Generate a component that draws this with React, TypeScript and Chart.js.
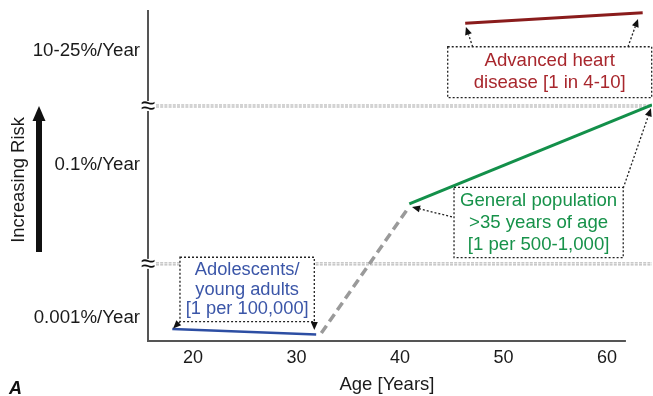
import React, { useEffect, useRef } from "react";
import { Chart, registerables } from "chart.js";

Chart.register(...registerables);

// ---- Data (arbitrary risk units on a broken y axis) ----
const youngAges = [18.0, 31.9];
const youngRisk = [3.6, 2.0];
const transitionAges = [32.4, 40.8];
const transitionRisk = [2.4, 40.2];
const generalAges = [40.9, 64.35];
const generalRisk = [41.4, 71.3];
const heartAges = [46.3, 63.45];
const heartRisk = [96.0, 99.2];

const xTickValues = [20, 30, 40, 50, 60];
const yLabelValues = [87.6, 53.2, 6.9];
const yLabelTexts = ["10-25%/Year", "0.1%/Year", "0.001%/Year"];
const breakValues = [71.0, 23.3];

const xTitle = "Age [Years]";
const yTitle = "Increasing Risk";
const panelLabel = "A";

const youngLabel = ["Adolescents/", "young adults", "[1 per 100,000]"];
const generalLabel = ["General population", ">35 years of age", "[1 per 500-1,000]"];
const heartLabel = ["Advanced heart", "disease [1 in 4-10]"];

const FONT = '"Liberation Sans", Arial, Helvetica, sans-serif';

type Box = { x0: number; x1: number; y0: number; y1: number; lines: string[]; color: string; size: number; spacing: number };
const boxes: Box[] = [
  { x0: 18.74, x1: 31.72, y0: 5.83, y1: 25.3, lines: youngLabel, color: "#3b56a8", size: 18.3, spacing: 19.3 },
  { x0: 45.22, x1: 61.57, y0: 25.2, y1: 46.4, lines: generalLabel, color: "#17924a", size: 18.6, spacing: 22 },
  { x0: 44.61, x1: 64.32, y0: 73.5, y1: 88.9, lines: heartLabel, color: "#a8272d", size: 18.6, spacing: 22 },
];

const arrows = [
  { tail: [18.74, 5.83], head: [18.07, 3.8] },
  { tail: [31.72, 5.83], head: [31.72, 3.3] },
  { tail: [45.02, 37.5], head: [41.16, 40.5] },
  { tail: [61.57, 46.2], head: [64.25, 70.3] },
  { tail: [47.02, 88.9], head: [46.37, 94.9] },
  { tail: [62.03, 88.9], head: [63.0, 97.3] },
];

const AXIS_END = 61.83;

const decorPlugin = {
  id: "decor",
  beforeDatasetsDraw(chart: any) {
    const { ctx, chartArea, scales } = chart;
    const xs = scales.x;
    const ys = scales.y;
    ctx.save();
    // break lines
    for (const b of breakValues) {
      const y = ys.getPixelForValue(b);
      ctx.strokeStyle = "#a8a8a8";
      ctx.lineWidth = 1;
      ctx.setLineDash([3, 1.2]);
      for (const dy of [-1, 1]) {
        ctx.beginPath();
        ctx.moveTo(chartArea.left + 8, y + dy);
        ctx.lineTo(chartArea.right, y + dy);
        ctx.stroke();
      }
    }
    ctx.setLineDash([]);
    // axes
    ctx.strokeStyle = "#555";
    ctx.lineWidth = 2;
    ctx.beginPath();
    ctx.moveTo(chartArea.left, chartArea.top);
    ctx.lineTo(chartArea.left, chartArea.bottom);
    ctx.lineTo(xs.getPixelForValue(AXIS_END), chartArea.bottom);
    ctx.stroke();
    // break symbols
    for (const b of breakValues) {
      const y = ys.getPixelForValue(b);
      ctx.fillStyle = "#fff";
      ctx.fillRect(chartArea.left - 5, y - 5, 10, 10);
      ctx.fillStyle = "#111";
      ctx.font = `26px ${FONT}`;
      ctx.textAlign = "center";
      ctx.textBaseline = "middle";
      ctx.fillText("\u2248", chartArea.left, y + 1);
    }
    // x tick labels
    ctx.fillStyle = "#1a1a1a";
    ctx.font = `18px ${FONT}`;
    ctx.textAlign = "center";
    ctx.textBaseline = "middle";
    for (const t of xTickValues) {
      ctx.fillText(String(t), xs.getPixelForValue(t), chartArea.bottom + 17);
    }
    // x title
    ctx.font = `18.5px ${FONT}`;
    ctx.fillText(xTitle, (chartArea.left + xs.getPixelForValue(AXIS_END)) / 2, chartArea.bottom + 44);
    // y labels
    ctx.textAlign = "right";
    ctx.font = `18.7px ${FONT}`;
    for (let i = 0; i < yLabelValues.length; i++) {
      ctx.fillText(yLabelTexts[i], chartArea.left - 8, ys.getPixelForValue(yLabelValues[i]));
    }
    // panel label
    ctx.font = `italic bold 18px ${FONT}`;
    ctx.textAlign = "left";
    ctx.textBaseline = "alphabetic";
    ctx.fillStyle = "#111";
    ctx.fillText(panelLabel, 9, 394);
    // y title rotated
    ctx.save();
    ctx.translate(19, 180);
    ctx.rotate(-Math.PI / 2);
    ctx.font = `18.4px ${FONT}`;
    ctx.textAlign = "center";
    ctx.textBaseline = "middle";
    ctx.fillStyle = "#1a1a1a";
    ctx.fillText(yTitle, 0, 0);
    ctx.restore();
    // big arrow
    ctx.fillStyle = "#111";
    ctx.fillRect(36, 119, 6, 133);
    ctx.beginPath();
    ctx.moveTo(32.5, 121);
    ctx.lineTo(39, 106);
    ctx.lineTo(45.5, 121);
    ctx.closePath();
    ctx.fill();
    ctx.restore();
  },
  afterDatasetsDraw(chart: any) {
    const { ctx, scales } = chart;
    const xs = scales.x;
    const ys = scales.y;
    ctx.save();
    // boxes
    for (const b of boxes) {
      const l = xs.getPixelForValue(b.x0);
      const r = xs.getPixelForValue(b.x1);
      const t = ys.getPixelForValue(b.y1);
      const bt = ys.getPixelForValue(b.y0);
      ctx.fillStyle = "#fff";
      ctx.fillRect(l, t, r - l, bt - t);
      ctx.strokeStyle = "#222";
      ctx.lineWidth = 1.3;
      ctx.setLineDash([2, 2]);
      ctx.strokeRect(l, t, r - l, bt - t);
      ctx.setLineDash([]);
      ctx.fillStyle = b.color;
      ctx.font = `${b.size}px ${FONT}`;
      ctx.textAlign = "center";
      ctx.textBaseline = "middle";
      const cx = (l + r) / 2;
      const cy = (t + bt) / 2;
      const n = b.lines.length;
      b.lines.forEach((line, i) => {
        ctx.fillText(line, cx, cy + (i - (n - 1) / 2) * b.spacing);
      });
    }
    // arrows
    for (const a of arrows) {
      const x0 = xs.getPixelForValue(a.tail[0]);
      const y0 = ys.getPixelForValue(a.tail[1]);
      const x1 = xs.getPixelForValue(a.head[0]);
      const y1 = ys.getPixelForValue(a.head[1]);
      const ang = Math.atan2(y1 - y0, x1 - x0);
      const len = 8;
      const hw = 3.5;
      const bx = x1 - Math.cos(ang) * len;
      const by = y1 - Math.sin(ang) * len;
      ctx.strokeStyle = "#222";
      ctx.lineWidth = 1.3;
      ctx.setLineDash([2, 2]);
      ctx.beginPath();
      ctx.moveTo(x0, y0);
      ctx.lineTo(bx, by);
      ctx.stroke();
      ctx.setLineDash([]);
      ctx.fillStyle = "#111";
      ctx.beginPath();
      ctx.moveTo(x1, y1);
      ctx.lineTo(bx - Math.sin(ang) * hw, by + Math.cos(ang) * hw);
      ctx.lineTo(bx + Math.sin(ang) * hw, by - Math.cos(ang) * hw);
      ctx.closePath();
      ctx.fill();
    }
    ctx.restore();
  },
};

function pts(xs: number[], ys: number[]) {
  return xs.map((x, i) => ({ x, y: ys[i] }));
}

export default function App() {
  const ref = useRef<HTMLCanvasElement | null>(null);
  useEffect(() => {
    document.body.style.margin = "0";
    const canvas = ref.current;
    if (!canvas) return;
    const chart = new Chart(canvas, {
      type: "line",
      data: {
        datasets: [
          { data: pts(youngAges, youngRisk), borderColor: "#2d4ea3", borderWidth: 2.5, pointRadius: 0 },
          { data: pts(transitionAges, transitionRisk), borderColor: "#9a9a9a", borderWidth: 3.5, borderDash: [9, 5], pointRadius: 0 },
          { data: pts(generalAges, generalRisk), borderColor: "#13904a", borderWidth: 3, pointRadius: 0 },
          { data: pts(heartAges, heartRisk), borderColor: "#8a1c1c", borderWidth: 3, pointRadius: 0 },
        ],
      },
      options: {
        responsive: false,
        animation: false,
        devicePixelRatio: 1,
        layout: { padding: { left: 148, right: 1, top: 10, bottom: 55 } },
        scales: {
          x: { type: "linear", min: 15.65, max: 64.35, display: false },
          y: { type: "linear", min: 0, max: 100, display: false },
        },
        plugins: { legend: { display: false }, tooltip: { enabled: false } },
      },
      plugins: [decorPlugin],
    } as any);
    return () => chart.destroy();
  }, []);
  return (
    <div style={{ width: 653, height: 396 }}>
      <canvas ref={ref} width={653} height={396} style={{ display: "block" }} />
    </div>
  );
}
